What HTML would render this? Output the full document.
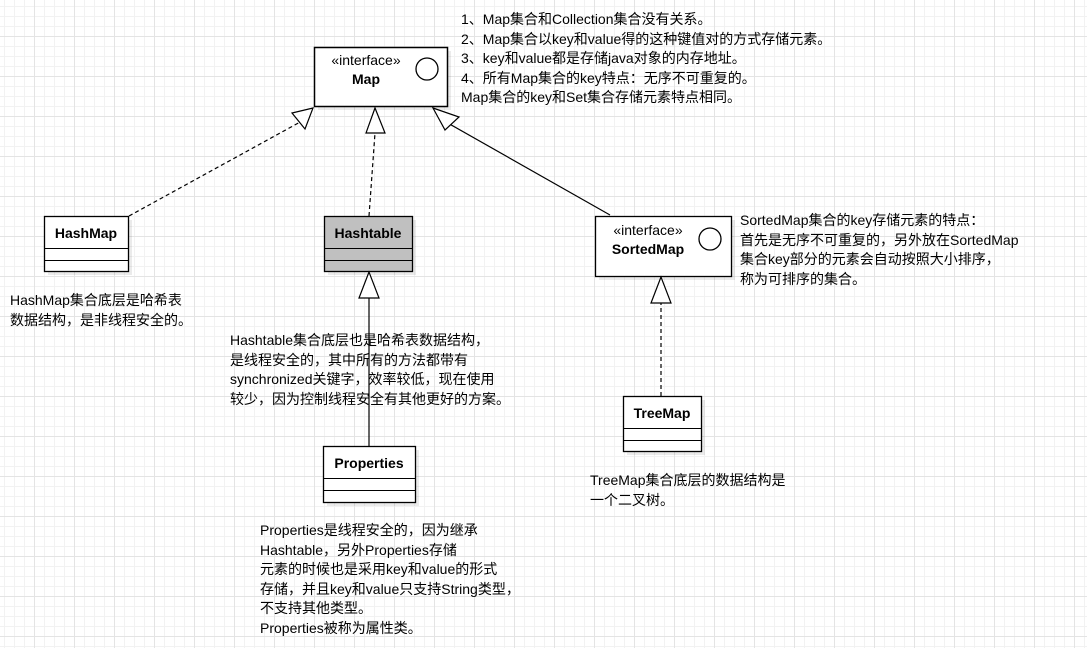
<!DOCTYPE html>
<html><head><style>
body{margin:0;width:1087px;height:648px;overflow:hidden;background:#fff;
background-image:linear-gradient(#e4e4e4 1px,transparent 1px),linear-gradient(90deg,#e4e4e4 1px,transparent 1px),linear-gradient(#f2f2f2 1px,transparent 1px),linear-gradient(90deg,#f2f2f2 1px,transparent 1px);
background-size:40px 40px,40px 40px,10px 10px,10px 10px;background-position:-6px -4px;
font-family:"Liberation Sans","Noto Sans CJK SC",sans-serif;position:relative}
.t{position:absolute;font-size:14px;line-height:19.5px;color:#000;white-space:nowrap}
</style></head><body>
<svg width="1087" height="648" style="position:absolute;left:0;top:0" font-family="Liberation Sans, sans-serif">
<g fill="#000" opacity="0.08"><rect x="318" y="51" width="133" height="59"/><rect x="48" y="220" width="84" height="55"/><rect x="328" y="220" width="88" height="55"/><rect x="599" y="220" width="136" height="60"/><rect x="627" y="400" width="78" height="55"/><rect x="327" y="450" width="92" height="56"/></g>
<rect x="314.5" y="47.5" width="133" height="59" fill="#fff" stroke="#000" stroke-width="1.5"/>
<text x="366" y="65" font-size="14" text-anchor="middle">«interface»</text>
<text x="366" y="84" font-size="14" font-weight="bold" text-anchor="middle">Map</text>
<circle cx="427" cy="69" r="11" fill="none" stroke="#000" stroke-width="1.3"/>
<rect x="44.5" y="216.5" width="84" height="55" fill="#fff" stroke="#000" stroke-width="1.3"/>
<line x1="44" y1="248.5" x2="128" y2="248.5" stroke="#000"/><line x1="44" y1="260.5" x2="128" y2="260.5" stroke="#000"/>
<text x="86" y="238" font-size="14" font-weight="bold" text-anchor="middle">HashMap</text>
<rect x="324.5" y="216.5" width="88" height="55" fill="#c0c0c0" stroke="#000" stroke-width="1.3"/>
<line x1="324" y1="248.5" x2="412" y2="248.5" stroke="#000"/><line x1="324" y1="260.5" x2="412" y2="260.5" stroke="#000"/>
<text x="368" y="238" font-size="14" font-weight="bold" text-anchor="middle">Hashtable</text>
<rect x="595.5" y="216.5" width="136" height="60" fill="#fff" stroke="#000" stroke-width="1.3"/>
<text x="648" y="235" font-size="14" text-anchor="middle">«interface»</text>
<text x="648" y="254" font-size="14" font-weight="bold" text-anchor="middle">SortedMap</text>
<circle cx="710" cy="239" r="11" fill="none" stroke="#000" stroke-width="1.3"/>
<rect x="623.5" y="396.5" width="78" height="55" fill="#fff" stroke="#000" stroke-width="1.3"/>
<line x1="623" y1="428.5" x2="701" y2="428.5" stroke="#000"/><line x1="623" y1="440.5" x2="701" y2="440.5" stroke="#000"/>
<text x="662" y="418" font-size="14" font-weight="bold" text-anchor="middle">TreeMap</text>
<rect x="323.5" y="446.5" width="92" height="56" fill="#fff" stroke="#000" stroke-width="1.3"/>
<line x1="323" y1="478.5" x2="415" y2="478.5" stroke="#000"/><line x1="323" y1="490.5" x2="415" y2="490.5" stroke="#000"/>
<text x="369" y="468" font-size="14" font-weight="bold" text-anchor="middle">Properties</text>
<g stroke="#000" stroke-width="1.2" fill="#fff">
<line x1="129" y1="216" x2="302" y2="121" stroke-dasharray="4 3"/>
<polygon points="313,108 292,113 305,129"/>
<line x1="369" y1="216" x2="375" y2="133" stroke-dasharray="4 3"/>
<polygon points="375,108 366,133 385,133"/>
<line x1="610" y1="215" x2="446" y2="122"/>
<polygon points="433,108 445,130 459,117"/>
<line x1="661" y1="396" x2="661" y2="303" stroke-dasharray="4 3"/>
<polygon points="661,277 651,303 671,303"/>
<line x1="369" y1="446" x2="369" y2="298"/>
<polygon points="369,272 359,298 379,298"/>
</g>
</svg>
<div class="t" style="left:461px;top:10px">1、Map集合和Collection集合没有关系。<br>2、Map集合以key和value得的这种键值对的方式存储元素。<br>3、key和value都是存储java对象的内存地址。<br>4、所有Map集合的key特点：无序不可重复的。<br>Map集合的key和Set集合存储元素特点相同。</div>
<div class="t" style="left:10px;top:291px">HashMap集合底层是哈希表<br>数据结构，是非线程安全的。</div>
<div class="t" style="left:230px;top:331px">Hashtable集合底层也是哈希表数据结构，<br>是线程安全的，其中所有的方法都带有<br>synchronized关键字，效率较低，现在使用<br>较少，因为控制线程安全有其他更好的方案。</div>
<div class="t" style="left:740px;top:211px">SortedMap集合的key存储元素的特点：<br>首先是无序不可重复的，另外放在SortedMap<br>集合key部分的元素会自动按照大小排序，<br>称为可排序的集合。</div>
<div class="t" style="left:590px;top:471px">TreeMap集合底层的数据结构是<br>一个二叉树。</div>
<div class="t" style="left:260px;top:521px">Properties是线程安全的，因为继承<br>Hashtable，另外Properties存储<br>元素的时候也是采用key和value的形式<br>存储，并且key和value只支持String类型，<br>不支持其他类型。<br>Properties被称为属性类。</div>
</body></html>
